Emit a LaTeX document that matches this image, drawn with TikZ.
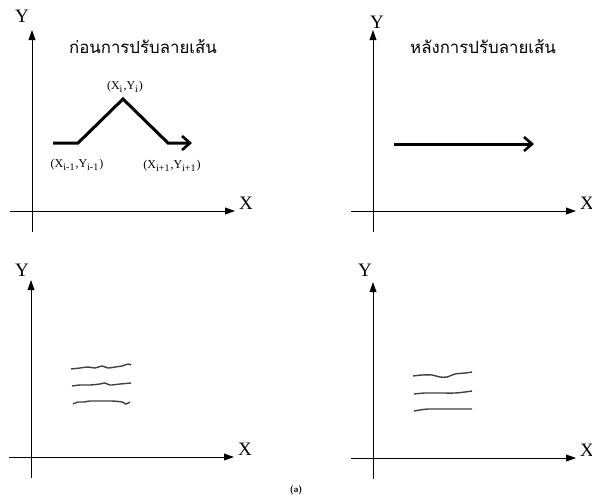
\documentclass[tikz,border=0pt]{standalone}
\usepackage{fontspec}
\setmainfont{Liberation Serif}
\newfontfamily\thaifont[Script=Thai]{Loma}
\usetikzlibrary{arrows.meta}

\begin{document}
\begin{tikzpicture}[x=0.5pt, y=-0.5pt,
  axis/.style={line width=0.5pt, -{Triangle[length=5pt, width=3.4pt]}},
  axlabel/.style={inner sep=0pt, font=\fontsize{9.5}{10}\selectfont},
  ptlabel/.style={inner sep=0pt, font=\fontsize{6}{7}\selectfont},
  ttl/.style={inner sep=0pt, font=\thaifont\fontsize{8.4}{10}\selectfont},
  path/.style={line width=1.5pt, line join=miter},
  sketch/.style={line width=0.7pt, black!75}]
\useasboundingbox (0,0) rectangle (592,498);

% axes of the four panels
\foreach \n/\ox/\oy/\ytop/\yx/\yy in {a/32/211/30/22/16, b/373/211/30/377/22,
                                    c/31/457/280/22/270, d/373/458/282/365/270} {
  \coordinate (\n-yb) at (\ox,\oy+21);
  \coordinate (\n-yt) at (\ox,\ytop);
  \coordinate (\n-xl) at (\ox-22,\oy);
  \coordinate (\n-xr) at (\ox+203,\oy);
  \draw[axis] (\n-yb) -- (\n-yt);
  \draw[axis] (\n-xl) -- (\n-xr);
  \node[axlabel] (\n-ylab) at (\yx,\yy) {Y};
  \node[axlabel] (\n-xlab) at (\ox+214,\oy-8) {X};
}

% before smoothing
\node[ttl] (ttl-a) at (143,47) {ก่อนการปรับลายเส้น};
\coordinate (p0) at (53,143);
\coordinate (p1) at (78,143);
\coordinate (p2) at (123,99);
\coordinate (p3) at (168,143);
\coordinate (p4) at (192,143);
\draw[path, -{Straight Barb[length=4pt, width=7pt, line width=1.3pt]}]
  (p0) -- (p1) -- (p2) -- (p3) -- (p4);
\node[ptlabel] (lab-i) at (125,87) {(X\textsubscript{i},Y\textsubscript{i})};
\node[ptlabel] (lab-im) at (77,165) {(X\textsubscript{i-1},Y\textsubscript{i-1})};
\node[ptlabel] (lab-ip) at (172,166) {(X\textsubscript{i+1},Y\textsubscript{i+1})};

% after smoothing
\node[ttl] (ttl-b) at (483,47) {หลังการปรับลายเส้น};
\coordinate (q0) at (394,144);
\coordinate (q1) at (534,144);
\draw[path, -{Straight Barb[length=4pt, width=7pt, line width=1.3pt]}] (q0) -- (q1);

% rough strokes
\draw[sketch] plot[smooth] coordinates {(71,369) (80,368) (88,367) (95,368) (102,366) (108,368) (115,367) (122,366) (128,364) (131,365)};
\draw[sketch] plot[smooth] coordinates {(72,386) (80,385) (90,385) (100,384) (105,383) (110,385) (120,384) (131,383)};
\draw[sketch] plot[smooth] coordinates {(73,404) (78,402) (84,402) (90,401) (100,401) (112,401) (122,402) (126,404) (130,402)};

\draw[sketch] plot[smooth] coordinates {(413,376) (422,375) (432,375) (440,377) (447,377) (455,374) (465,373) (472,372)};
\draw[sketch] plot[smooth] coordinates {(414,394) (425,393) (440,393) (455,393) (465,392) (472,391)};
\draw[sketch] plot[smooth] coordinates {(414,411) (420,410) (428,409) (440,409) (455,409) (472,409)};

\node[inner sep=0pt, font=\sffamily\bfseries\fontsize{4.5}{5}\selectfont] (cap) at (296,490) {(a)};
\end{tikzpicture}
\end{document}
